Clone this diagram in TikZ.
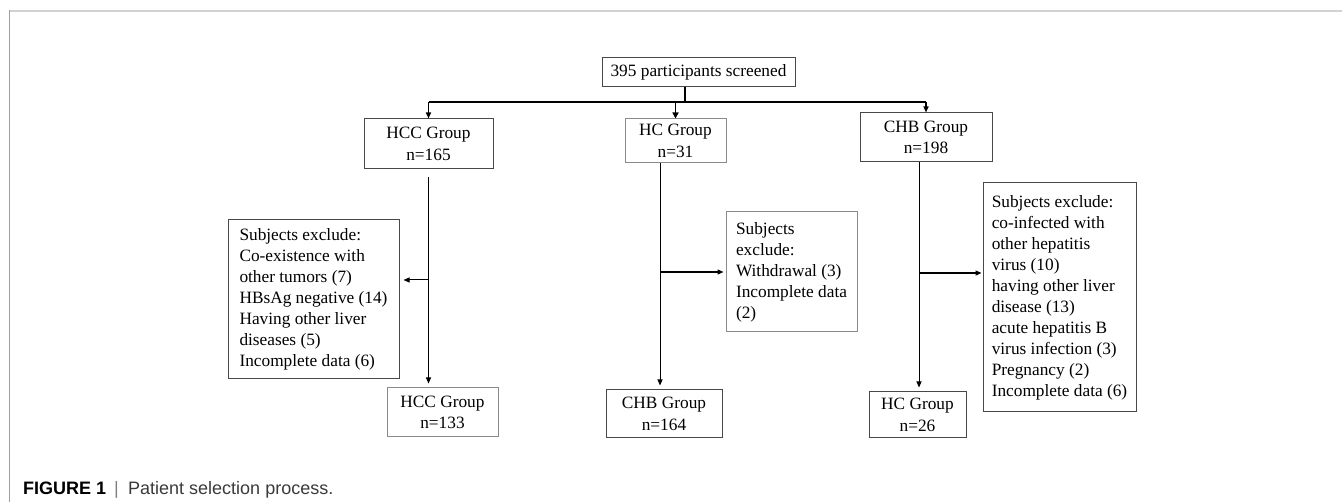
\documentclass[tikz,border=0pt]{standalone}
\usepackage{fontspec}
\setmainfont{Liberation Serif}
\newfontfamily\capfont{Liberation Sans}
\usetikzlibrary{arrows.meta}
\definecolor{dk}{HTML}{484848}
\definecolor{lt}{HTML}{8A8A8A}
\definecolor{capgray}{HTML}{3A3A3A}
\begin{document}
\begin{tikzpicture}[x=1pt,y=-1pt,
  box/.style={draw=dk, line width=1pt, inner sep=0pt, align=center,
    font=\fontsize{17.3}{21.5}\selectfont},
  lightbox/.style={box, draw=lt},
  exbox/.style={box, align=left, font=\fontsize{17.3}{21}\selectfont},
  arr/.style={-{Triangle[length=6pt,width=5pt]}, line width=1pt},
  thickarr/.style={arr, line width=1.8pt, -{Triangle[length=6pt,width=6pt]}},
  bold/.style={line width=1.8pt},
  captxt/.style={inner sep=0pt, anchor=base west, font=\capfont\fontsize{18}{20}\selectfont}]
\useasboundingbox (0,0) rectangle (1342,502);
% frame
\draw[gray!35, line width=2pt] (9,11) -- (1342,11);
\draw[gray!75, line width=1pt] (9,10) -- (9,502);
% nodes
\node[box, minimum width=193, minimum height=29] (top) at (698.5,72.5) {395 participants screened};
\node[box, minimum width=129, minimum height=50] (hcc1) at (428.5,144) {HCC Group\\n=165};
\node[lightbox, minimum width=101, minimum height=44] (hc1) at (675.5,141) {HC Group\\n=31};
\node[box, minimum width=132, minimum height=49] (chb1) at (926,137.5) {CHB Group\\n=198};
\node[exbox, minimum width=171, minimum height=159] (exl) at (313.5,299.5) {Subjects exclude:\\Co-existence with\\other tumors (7)\\HBsAg negative (14)\\Having other liver\\diseases (5)\\Incomplete data (6)};
\node[exbox, draw=lt, minimum width=131, minimum height=120] (exm) at (791.5,272) {Subjects\\exclude:\\Withdrawal (3)\\Incomplete data\\(2)};
\node[exbox, minimum width=153, minimum height=229] (exr) at (1059.5,297.5) {Subjects exclude:\\co-infected with\\other hepatitis\\virus (10)\\having other liver\\disease (13)\\acute hepatitis B\\virus infection (3)\\Pregnancy (2)\\Incomplete data (6)};
\node[lightbox, minimum width=111, minimum height=49] (hcc2) at (442.5,412.5) {HCC Group\\n=133};
\node[box, minimum width=116, minimum height=48] (chb2) at (664,414) {CHB Group\\n=164};
\node[box, minimum width=97, minimum height=46] (hc2) at (917.5,415) {HC Group\\n=26};
% top split
\coordinate (j) at (685,102);
\draw[bold] (j |- top.south) -- (j);
\draw[bold] (hcc1.north |- j) -- (chb1.north |- j);
\draw[arr, line width=1.4pt] (hcc1.north |- j) -- (hcc1.north);
\draw[thickarr] (hc1.north |- j) -- (hc1.north);
\draw[arr, line width=1.4pt] (chb1.north |- j) -- (chb1.north);
% HCC column
\draw[arr, shorten >=4pt] ([yshift=-8pt]hcc1.south) -- (hcc1.south |- hcc2.north);
\coordinate (a1) at (428.5,280);
\draw[arr, shorten >=4pt] (a1) -- (a1 -| exl.east);
% HC column
\coordinate (v2) at (660,0);
\draw[arr, shorten >=4pt] (v2 |- hc1.south) -- (v2 |- chb2.north);
\coordinate (a2) at (660,272);
\draw[arr, line width=1.3pt, shorten >=2pt] (a2) -- (a2 -| exm.west);
% CHB column
\coordinate (v3) at (919,0);
\draw[arr, shorten >=4pt] (v3 |- chb1.south) -- (v3 |- hc2.north);
\coordinate (a3) at (919,273);
\draw[arr, line width=1.3pt, shorten >=1pt] (a3) -- (a3 -| exr.west);
% caption
\node[captxt, text=black] (cap1) at (23,494) {\bfseries FIGURE 1};
\node[captxt, text=gray] (cap2) at (114,494) {|};
\node[captxt, text=capgray] (cap3) at (128,494) {Patient selection process.};
\end{tikzpicture}
\end{document}
